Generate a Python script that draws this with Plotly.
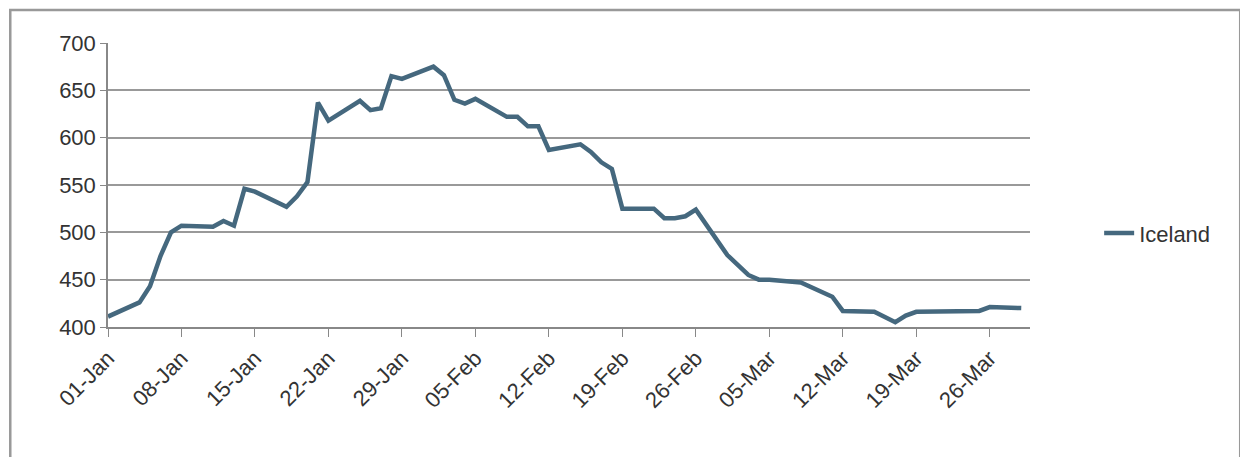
import plotly.graph_objects as go

dates = ["2013-01-01", "2013-01-04", "2013-01-05", "2013-01-06", "2013-01-07", "2013-01-08",
         "2013-01-11", "2013-01-12", "2013-01-13", "2013-01-14", "2013-01-15", "2013-01-18",
         "2013-01-19", "2013-01-20", "2013-01-21", "2013-01-22", "2013-01-25", "2013-01-26",
         "2013-01-27", "2013-01-28", "2013-01-29", "2013-02-01", "2013-02-02", "2013-02-03",
         "2013-02-04", "2013-02-05", "2013-02-08", "2013-02-09", "2013-02-10", "2013-02-11",
         "2013-02-12", "2013-02-15", "2013-02-16", "2013-02-17", "2013-02-18", "2013-02-19",
         "2013-02-22", "2013-02-23", "2013-02-24", "2013-02-25", "2013-02-26", "2013-03-01",
         "2013-03-03", "2013-03-04", "2013-03-05", "2013-03-08", "2013-03-10", "2013-03-11",
         "2013-03-12", "2013-03-15", "2013-03-17", "2013-03-18", "2013-03-19", "2013-03-25",
         "2013-03-26", "2013-03-29"]
iceland = [411, 426, 443, 475, 500, 507,
           506, 512, 507, 546, 543, 527,
           538, 553, 637, 618, 639, 629,
           631, 665, 662, 675, 666, 640,
           636, 641, 622, 622, 612, 612,
           587, 593, 585, 574, 567, 525,
           525, 515, 515, 517, 524, 476,
           455, 450, 450, 447, 437, 432,
           417, 416, 405, 412, 416, 417,
           421, 420]
tick_vals = ["2013-01-01", "2013-01-08", "2013-01-15", "2013-01-22", "2013-01-29", "2013-02-05",
             "2013-02-12", "2013-02-19", "2013-02-26", "2013-03-05", "2013-03-12", "2013-03-19",
             "2013-03-26"]
tick_text = ["01-Jan", "08-Jan", "15-Jan", "22-Jan", "29-Jan", "05-Feb", "12-Feb", "19-Feb",
             "26-Feb", "05-Mar", "12-Mar", "19-Mar", "26-Mar"]

fig = go.Figure()
fig.add_trace(go.Scatter(x=dates, y=iceland, name="Iceland", mode="lines",
                         line=dict(color="#45687e", width=4.5)))

# page body has an 8px margin, so the margins are shifted by that
fig.update_layout(
    width=1248, height=457,
    margin=dict(l=100, r=226, t=35, b=138, autoexpand=False),
    paper_bgcolor="white", plot_bgcolor="white",
    font=dict(family="Liberation Sans, Arial", size=22, color="#333"),
    legend=dict(x=1.075, y=0.33, yanchor="middle", font=dict(size=22)),
    showlegend=True,
)
fig.update_xaxes(range=["2013-01-01", "2013-03-29 20:00"], tickvals=tick_vals, ticktext=tick_text,
                 tickangle=-45, ticks="outside", ticklen=8, tickcolor="#888", automargin=False,
                 showline=True, linecolor="#888", linewidth=1.5, showgrid=False)
fig.update_yaxes(range=[400, 700], dtick=50, gridcolor="#999", gridwidth=1.5, automargin=False,
                 showline=True, linecolor="#888", linewidth=1.5, ticks="outside",
                 ticklen=6, tickcolor="#888", zeroline=False)
fig.add_shape(type="rect", xref="paper", yref="paper", x0=-0.106, x1=1.228, y0=-0.5, y1=1.116,
              line=dict(color="#999", width=2.5), layer="below")
fig.write_html("out.html")
